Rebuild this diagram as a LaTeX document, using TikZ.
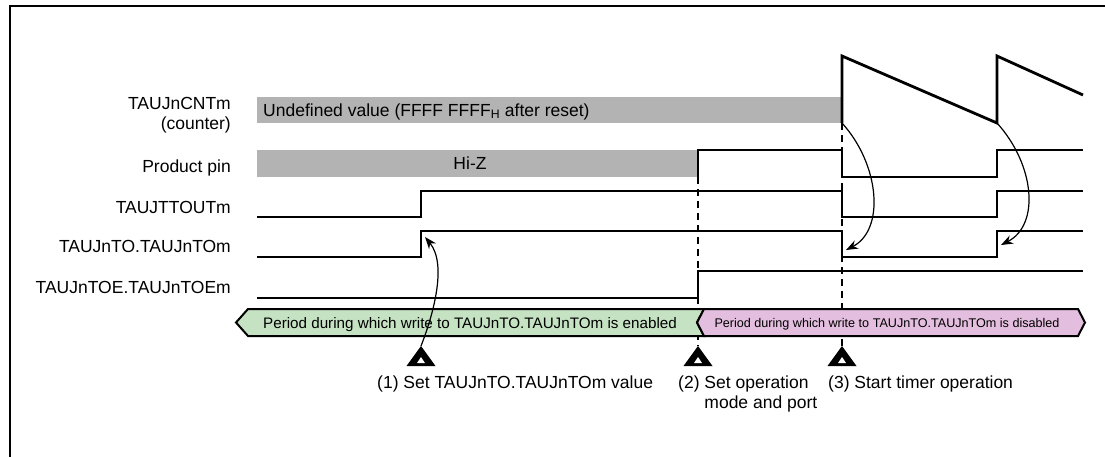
\documentclass[tikz,border=0pt]{standalone}
\usepackage{fontspec}
\setmainfont{Liberation Sans}
\usetikzlibrary{arrows.meta}
\definecolor{hizgray}{RGB}{179,179,179}
\definecolor{okgreen}{RGB}{197,226,195}
\definecolor{ngpink}{RGB}{228,190,222}
\begin{document}
\begin{tikzpicture}[x=1pt, y=-1pt, >={Stealth[length=12pt, width=9pt]},
    sig/.style={line width=2.8pt},
    sigtext/.style={font=\fontsize{17.5}{20}\selectfont, inner sep=0pt},
    guide/.style={line width=1.4pt, dash pattern=on 7pt off 5pt},
    period/.style={line width=2pt, draw=black},
    curve/.style={line width=1.2pt},
    trimark/.pic={\fill (0,0) -- (14.5,20) -- (-14.5,20) -- cycle;
                  \fill[white] (0,11) -- (4,17) -- (-4,17) -- cycle;}]
  \useasboundingbox (0,0) rectangle (1105,456);
  % frame
  \draw[line width=2.4pt] (10,470) -- (10,6) -- (1120,6);

  % signal names
  \node[sigtext, anchor=east, align=right] (ncnt) at (231,115.5) {TAUJnCNTm\\(counter)};
  \node[sigtext, anchor=base east] (npin) at (231,172) {Product pin};
  \node[sigtext, anchor=base east] (nttout) at (231,213) {TAUJTTOUTm};
  \node[sigtext, anchor=base east] (nto) at (231,252) {TAUJnTO.TAUJnTOm};
  \node[sigtext, anchor=base east] (ntoe) at (231,293) {TAUJnTOE.TAUJnTOEm};

  % counter
  \fill[hizgray] (257,97) rectangle (842,123);
  \node[sigtext, anchor=base west] (undef) at (263,116) {Undefined value (FFFF FFFF\textsubscript{H} after reset)};
  \coordinate (saw1) at (842,123);
  \coordinate (saw2) at (997,123);
  \draw[sig] (saw1) -- (842,56) -- (saw2) -- (997,56) -- (1083,95);

  % product pin
  \fill[hizgray] (257,150) rectangle (698,177);
  \node[sigtext, anchor=base] (hiz) at (470,169.5) {Hi-Z};
  \draw[sig] (698,177) -- (698,150) -- (842,150) -- (842,177) -- (997,177) -- (997,150) -- (1083,150);

  % TAUJTTOUTm
  \draw[sig] (257,217) -- (421,217) -- (421,191) -- (842,191) -- (842,217) -- (997,217) -- (997,191) -- (1083,191);

  % TAUJnTO.TAUJnTOm
  \draw[sig] (257,257) -- (421,257) -- (421,231) -- (842,231) -- (842,257) -- (997,257) -- (997,231) -- (1083,231);
  \coordinate (to1) at (425,237);
  \coordinate (to2) at (846,250);
  \coordinate (to3) at (1001,245);

  % TAUJnTOE.TAUJnTOEm
  \draw[sig] (257,298) -- (698,298) -- (698,271) -- (1083,271);

  % markers
  \coordinate (m1) at (421,346);
  \coordinate (m2) at (698,346);
  \coordinate (m3) at (842,346);
  \draw[guide] (698,177) -- (m2);
  \draw[guide] (saw1) -- (m3);

  % write periods
  \filldraw[period, fill=okgreen] (236,322.5) -- (248,309) -- (704,309) -- (697,322.5) -- (704,336) -- (248,336) -- cycle;
  \filldraw[period, fill=ngpink] (697,322.5) -- (704,309) -- (1078,309) -- (1085,322.5) -- (1078,336) -- (704,336) -- cycle;
  \node[font=\fontsize{15.2}{18}\selectfont, inner sep=0pt, anchor=base] (pen) at (470,328) {Period during which write to TAUJnTO.TAUJnTOm is enabled};
  \node[font=\fontsize{12.6}{15}\selectfont, inner sep=0pt, anchor=base] (pdis) at (887,327) {Period during which write to TAUJnTO.TAUJnTOm is disabled};

  \pic at (m1) {trimark};
  \pic at (m2) {trimark};
  \pic at (m3) {trimark};

  % arrows
  \draw[curve, ->] (m1) .. controls (432,318) and (448,265) .. (to1);
  \draw[curve, ->] (saw1) .. controls (880,165) and (885,230) .. (to2);
  \draw[curve, ->] (saw2) .. controls (1035,165) and (1040,225) .. (to3);

  % steps
  \node[sigtext, anchor=north west] (step1) at (377,376) {(1) Set TAUJnTO.TAUJnTOm value};
  \node[sigtext, anchor=north west, align=left] (step2) at (678,376) {(2) Set operation\\\phantom{(2) }mode and port};
  \node[sigtext, anchor=north west] (step3) at (828,376) {(3) Start timer operation};
\end{tikzpicture}
\end{document}
